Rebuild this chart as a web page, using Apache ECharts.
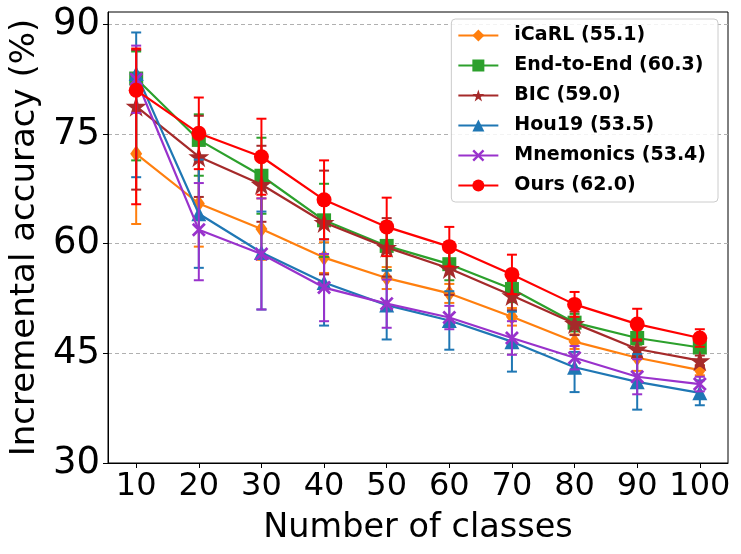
<!DOCTYPE html>
<html>
<head>
<meta charset="utf-8">
<script src="https://cdn.jsdelivr.net/npm/echarts@6/dist/echarts.min.js"></script>
<style>
  html, body { margin: 0; padding: 0; background: #fff; }
  #main { width: 741px; height: 554px; }
</style>
</head>
<body>
<div id="main"></div>
<script>
// 类别 (x)
var classes = [10, 20, 30, 40, 50, 60, 70, 80, 90, 100];
var yTicks = [30, 45, 60, 75, 90];

// 各方法均值 + 误差条上下界
var icarl     = [72.3, 65.5, 62.0, 58.1, 55.3, 53.2, 50.0, 46.6, 44.4, 42.7];
var icarlLo   = [62.7, 59.6, 57.8, 56.0, 53.8, 51.9, 48.8, 45.6, 42.6, 42.0];
var icarlHi   = [81.9, 71.4, 66.2, 60.2, 56.8, 54.5, 51.2, 47.6, 46.2, 43.4];

var e2e       = [82.6, 74.2, 69.3, 63.2, 59.7, 57.2, 53.8, 49.2, 47.1, 45.8];
var e2eLo     = [71.4, 69.3, 64.1, 58.2, 56.4, 55.0, 52.0, 48.0, 46.2, 45.2];
var e2eHi     = [86.3, 77.7, 74.5, 68.2, 63.0, 59.4, 55.6, 50.4, 48.0, 46.4];

var bic       = [78.8, 71.9, 68.1, 62.9, 59.5, 56.6, 52.9, 49.1, 45.6, 44.0];
var bicLo     = [67.4, 66.4, 63.0, 55.8, 55.5, 53.0, 50.9, 47.5, 44.5, 43.3];
var bicHi     = [86.5, 77.5, 73.4, 70.0, 63.5, 60.2, 54.9, 50.7, 46.7, 44.7];

var hou19     = [83.3, 64.1, 58.8, 54.7, 51.6, 49.5, 46.6, 43.1, 41.1, 39.6];
var hou19Lo   = [69.1, 56.7, 51.0, 48.8, 46.9, 45.5, 42.5, 39.7, 37.3, 37.9];
var hou19Hi   = [88.9, 71.5, 64.4, 60.6, 56.3, 53.5, 50.7, 45.2, 44.9, 41.3];

var mnem      = [82.5, 61.9, 58.6, 54.0, 51.8, 49.9, 47.1, 44.4, 41.8, 40.8];
var mnemLo    = [77.9, 55.0, 51.0, 49.4, 48.5, 48.3, 44.8, 42.8, 39.4, 39.8];
var mnemHi    = [87.1, 68.3, 66.2, 58.6, 55.1, 51.5, 49.4, 46.0, 44.2, 41.8];

var ours      = [81.0, 75.1, 71.9, 66.0, 62.3, 59.6, 55.8, 51.7, 49.0, 47.1];
var oursLo    = [65.4, 70.2, 66.7, 60.6, 58.3, 56.9, 53.1, 50.0, 46.9, 45.9];
var oursHi    = [86.7, 80.0, 77.1, 71.4, 66.3, 62.3, 58.5, 53.4, 51.1, 48.3];

var starPath = 'path://M50,0 L61.23,34.55 L97.55,34.55 L68.17,55.9 L79.39,90.45 L50,69.1 L20.61,90.45 L31.83,55.9 L2.45,34.55 L38.77,34.55 Z';
var xPath = 'path://M0,1.4 L1.4,0 L10,8.6 L8.6,10 Z M8.6,0 L10,1.4 L1.4,10 L0,8.6 Z';

var methods = [
  { name: 'iCaRL (55.1)',      color: '#ff7f0e', v: icarl, lo: icarlLo, hi: icarlHi, symbol: 'diamond',  size: [12, 17] },
  { name: 'End-to-End (60.3)', color: '#2ca02c', v: e2e,   lo: e2eLo,   hi: e2eHi,   symbol: 'rect',     size: 14 },
  { name: 'BIC (59.0)',        color: '#a52a2a', v: bic,   lo: bicLo,   hi: bicHi,   symbol: starPath,   size: 21 },
  { name: 'Hou19 (53.5)',      color: '#1f77b4', v: hou19, lo: hou19Lo, hi: hou19Hi, symbol: 'triangle', size: 15 },
  { name: 'Mnemonics (53.4)',  color: '#9932cc', v: mnem,  lo: mnemLo,  hi: mnemHi,  symbol: xPath,      size: 14 },
  { name: 'Ours (62.0)',       color: '#ff0000', v: ours,  lo: oursLo,  hi: oursHi,  symbol: 'circle',   size: 15 }
];

function errRender(color) {
  return function (params, api) {
    var x = api.value(0);
    var top = api.coord([x, api.value(2)]);
    var bot = api.coord([x, api.value(1)]);
    var st = { stroke: color, lineWidth: 2 };
    return {
      type: 'group',
      children: [
        { type: 'line', shape: { x1: top[0], y1: top[1], x2: bot[0], y2: bot[1] }, style: st },
        { type: 'line', shape: { x1: top[0] - 5, y1: top[1], x2: top[0] + 5, y2: top[1] }, style: st },
        { type: 'line', shape: { x1: bot[0] - 5, y1: bot[1], x2: bot[0] + 5, y2: bot[1] }, style: st }
      ]
    };
  };
}

var series = [];
methods.forEach(function (m, i) {
  series.push({
    name: m.name + ' err',
    type: 'custom',
    renderItem: errRender(m.color),
    encode: { x: 0, y: [1, 2] },
    data: classes.map(function (c, k) { return [c, m.lo[k], m.hi[k]]; }),
    z: 2 + i * 2,
    silent: true
  });
  series.push({
    name: m.name,
    type: 'line',
    data: classes.map(function (c, k) { return [c, m.v[k]]; }),
    symbol: m.symbol,
    symbolSize: m.size,
    showAllSymbol: true,
    itemStyle: { color: m.color, opacity: 1 },
    lineStyle: { color: m.color, width: 2.2 },
    z: 3 + i * 2,
    animation: false
  });
});

var myChart = echarts.init(document.getElementById('main'));
var option = {
  animation: false,
  backgroundColor: '#fff',
  textStyle: { fontFamily: 'DejaVu Sans' },
  grid: { left: 108, right: 13, top: 12, bottom: 91, show: true, borderColor: '#000', borderWidth: 1 },
  legend: {
    data: methods.map(function (m) { return m.name; }),
    orient: 'vertical',
    right: 23,
    top: 19,
    padding: [7, 12, 7, 6],
    itemWidth: 40,
    itemHeight: 15,
    itemGap: 11,
    borderColor: '#cccccc',
    borderWidth: 1,
    borderRadius: 4,
    backgroundColor: 'rgba(255,255,255,0.85)',
    textStyle: { fontFamily: 'DejaVu Sans', fontWeight: 'bold', fontSize: 19, color: '#000', padding: [0, 0, 0, 11] }
  },
  xAxis: {
    type: 'value',
    min: 5.5,
    max: 104.5,
    name: 'Number of classes',
    nameLocation: 'middle',
    nameGap: 48,
    nameTextStyle: { fontFamily: 'DejaVu Sans', fontSize: 33.5, color: '#000' },
    axisLine: { lineStyle: { color: '#000', width: 1 } },
    axisTick: { show: true, customValues: classes, length: 5, lineStyle: { color: '#000' } },
    axisLabel: { customValues: classes, fontFamily: 'DejaVu Sans', fontSize: 32, color: '#000', margin: 8 },
    splitLine: { show: false }
  },
  yAxis: {
    type: 'value',
    min: 30,
    max: 91.7,
    name: 'Incremental accuracy (%)',
    nameLocation: 'middle',
    nameGap: 63,
    nameTextStyle: { fontFamily: 'DejaVu Sans', fontSize: 34, color: '#000' },
    axisLine: { show: true, lineStyle: { color: '#000', width: 1 } },
    axisTick: { show: true, customValues: yTicks, length: 5, lineStyle: { color: '#000' } },
    axisLabel: { customValues: yTicks, fontFamily: 'DejaVu Sans', fontSize: 37, color: '#000', margin: 8 },
    splitLine: { show: true, lineStyle: { color: '#b0b0b0', type: [4, 3], width: 1 } }
  },
  series: series
};
myChart.setOption(option);
</script>
</body>
</html>
